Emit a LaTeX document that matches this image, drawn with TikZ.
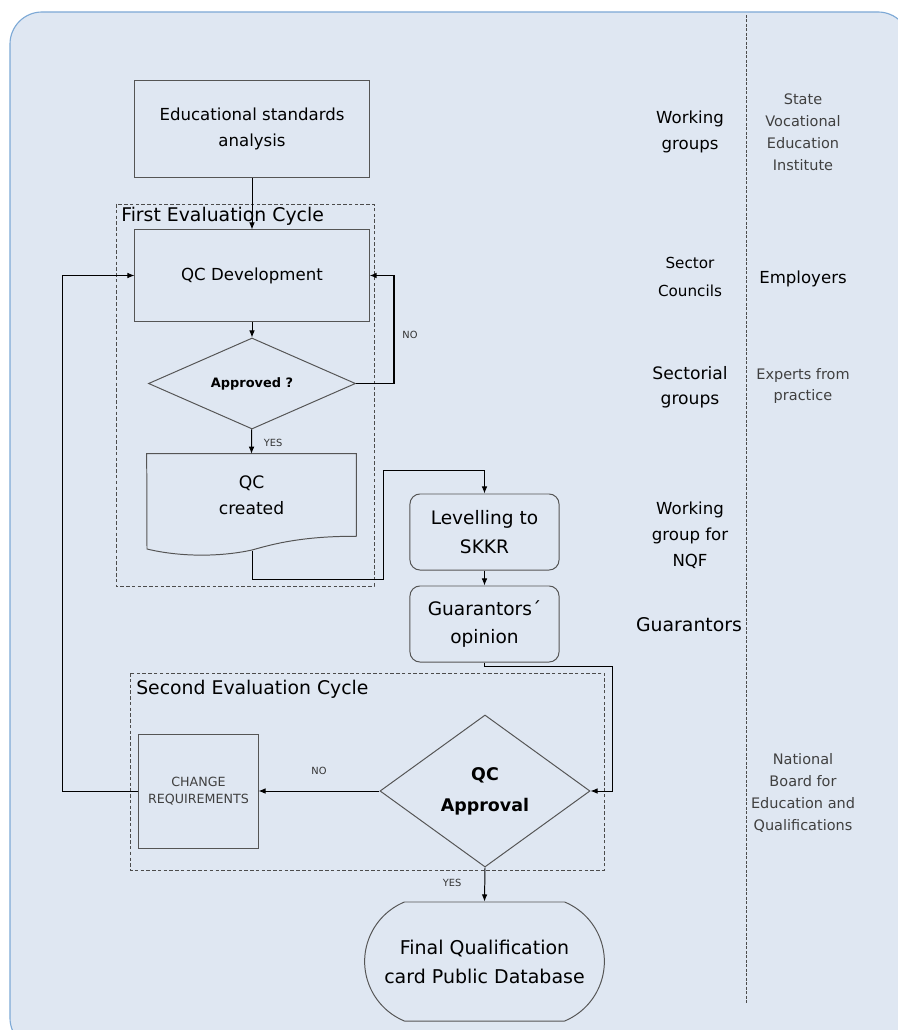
\documentclass[tikz,border=0pt]{standalone}
\usepackage{fontspec}
\setmainfont{DejaVu Sans}
\usetikzlibrary{shapes.geometric,shapes.misc,arrows.meta}
\definecolor{panelfill}{HTML}{DFE7F2}
\definecolor{panelline}{HTML}{7DA9D6}
\definecolor{boxline}{HTML}{555555}
\definecolor{greytext}{HTML}{404040}
\begin{document}
\begin{tikzpicture}[%
  x=0.025cm, y=-0.025cm,
  >={Latex[length=5pt,width=4pt]},
  boxtext/.style={font=\fontsize{11.8}{18.5}\selectfont, align=center},
  bigtext/.style={font=\fontsize{13.2}{20.6}\selectfont, align=center},
  boxstyle/.style={%
    rectangle,
    boxtext,
    draw=boxline,
    line width=0.7pt,
  },
  roundstyle/.style={boxstyle, bigtext, rounded corners=0.25cm},
  decisionstyle/.style={%
    diamond,
    draw=boxline,
    line width=0.7pt,
    inner sep=0pt,
    align=center,
  },
  endstyle/.style={%
    rounded rectangle,
    rounded rectangle arc length=135,
    bigtext,
    font=\fontsize{13.5}{20.6}\selectfont,
    draw=boxline,
    line width=0.7pt,
  },
  cyclestyle/.style={draw=black!70, line width=0.6pt, dash pattern=on 2.5pt off 1.6pt},
  cycletitle/.style={font=\fontsize{13.4}{16}\selectfont, anchor=base west, inner sep=0pt},
  lanestyle/.style={draw=black!70, line width=0.7pt, dash pattern=on 2pt off 1.2pt},
  rolestyle/.style={font=\fontsize{11.8}{18.5}\selectfont, align=center},
  bodystyle/.style={font=\fontsize{10.3}{15.6}\selectfont, align=center, text=greytext},
  flowline/.style={draw=black, line width=0.7pt},
  answer/.style={font=\fontsize{7}{8}\selectfont, text=black!80},
]
  % panel
  \useasboundingbox (0,0) rectangle (897,1030);
  \filldraw[fill=panelfill, draw=panelline, line width=0.8pt, rounded corners=0.8cm]
    (10,12) rectangle (910,1050);

  % evaluation cycles
  \draw[cyclestyle] (116,204) rectangle (374,586);
  \node[cycletitle] (firsttitle) at (121,222) {First Evaluation Cycle};
  \draw[cyclestyle] (130,673) rectangle (604,870);
  \node[cycletitle] (secondtitle) at (136,694) {Second Evaluation Cycle};

  % flow
  \node[boxstyle, minimum width=5.85cm, minimum height=2.4cm] (edu) at (252,129)
    {Educational standards\\analysis};
  \node[boxstyle, minimum width=5.85cm, minimum height=2.275cm] (qcdev) at (252,275.5)
    {QC Development};
  \node[decisionstyle, aspect=2.3, minimum width=5.175cm, minimum height=2.275cm,
    font=\bfseries\fontsize{9.2}{10}\selectfont] (approved) at (252,383.5) {Approved ?};
  \node[boxtext, font=\fontsize{12.2}{18.5}\selectfont, minimum width=5.225cm,
    minimum height=2.05cm] (qccreated) at (251.5,495) {QC\\created};
  \draw[boxline, line width=0.7pt] (qccreated.south east) -- (qccreated.north east)
    -- (qccreated.north west) -- (147,549)
    .. controls (180,557) and (220,557) .. (252,550)
    .. controls (270,545) and (300,536) .. (qccreated.south east);
  \coordinate (qcbottom) at (252,551);
  \node[roundstyle, minimum width=3.725cm, minimum height=1.9cm] (level) at (484.5,532)
    {Levelling to\\SKKR};
  \node[roundstyle, minimum width=3.725cm, minimum height=1.9cm] (guar) at (484.5,624)
    {Guarantors\char"00B4\\opinion};
  \node[decisionstyle, aspect=1.4, minimum width=5.25cm, minimum height=3.8cm,
    font=\bfseries\fontsize{12.4}{22}\selectfont] (qcappr) at (485,791) {QC\\Approval};
  \node[boxstyle, minimum width=2.975cm, minimum height=2.85cm,
    font=\fontsize{9}{12}\selectfont, text=black!75] (change) at (198.5,791)
    {CHANGE\\REQUIREMENTS};
  \node[endstyle, minimum width=6.225cm, minimum height=2.975cm] (final) at (484.5,961.5)
    {Final Qualification\\card Public Database};

  % connectors
  \draw[flowline, ->] (edu) -- (qcdev);
  \draw[flowline, ->] (qcdev) -- (approved);
  \draw[flowline, ->] (approved) -- (qccreated.north)
    node[answer, pos=0.55, right=5pt] (yesone) {YES};
  \draw[flowline, line width=1.3pt, ->] (approved.east) -- ++(38,0) |- (qcdev.east);
  \node[answer] (noone) at (410,335) {NO};
  \draw[flowline, ->] (qcbottom) -- ++(0,28) -| ++(131,-109) -| (level.north);
  \draw[flowline, ->] (level) -- (guar);
  \draw[flowline, ->] (guar.south) -- ++(0,4) -- ++(128,0) |- (qcappr.east);
  \draw[flowline, ->] (qcappr.west) -- (change.east)
    node[answer, midway, above=8pt] (notwo) {NO};
  \draw[flowline, ->] (change.west) -- ++(-76,0) |- (qcdev.west);
  \draw[flowline, ->] (qcappr.south) -- (final.north);
  \node[answer] (yestwo) at (452,883) {YES};

  % roles
  \draw[lanestyle] (746,15) -- (746,1003);
  \node[rolestyle] (wg) at (690,132) {Working\\groups};
  \node[rolestyle, font=\fontsize{10.8}{20}\selectfont] (sc) at (690,277) {Sector\\Councils};
  \node[rolestyle, font=\fontsize{12.2}{18}\selectfont] (sg) at (690,387) {Sectorial\\groups};
  \node[rolestyle] (wgnqf) at (690,535) {Working\\group for\\NQF};
  \node[rolestyle, font=\fontsize{13.4}{16}\selectfont] (guarlbl) at (689,625) {Guarantors};
  \node[bodystyle] (svei) at (803,132) {State\\Vocational\\Education\\Institute};
  \node[rolestyle] (empl) at (803,279) {Employers};
  \node[bodystyle] (experts) at (803,386) {Experts from\\practice};
  \node[bodystyle] (nbeq) at (803,793) {National\\Board for\\Education and\\Qualifications};
\end{tikzpicture}
\end{document}
